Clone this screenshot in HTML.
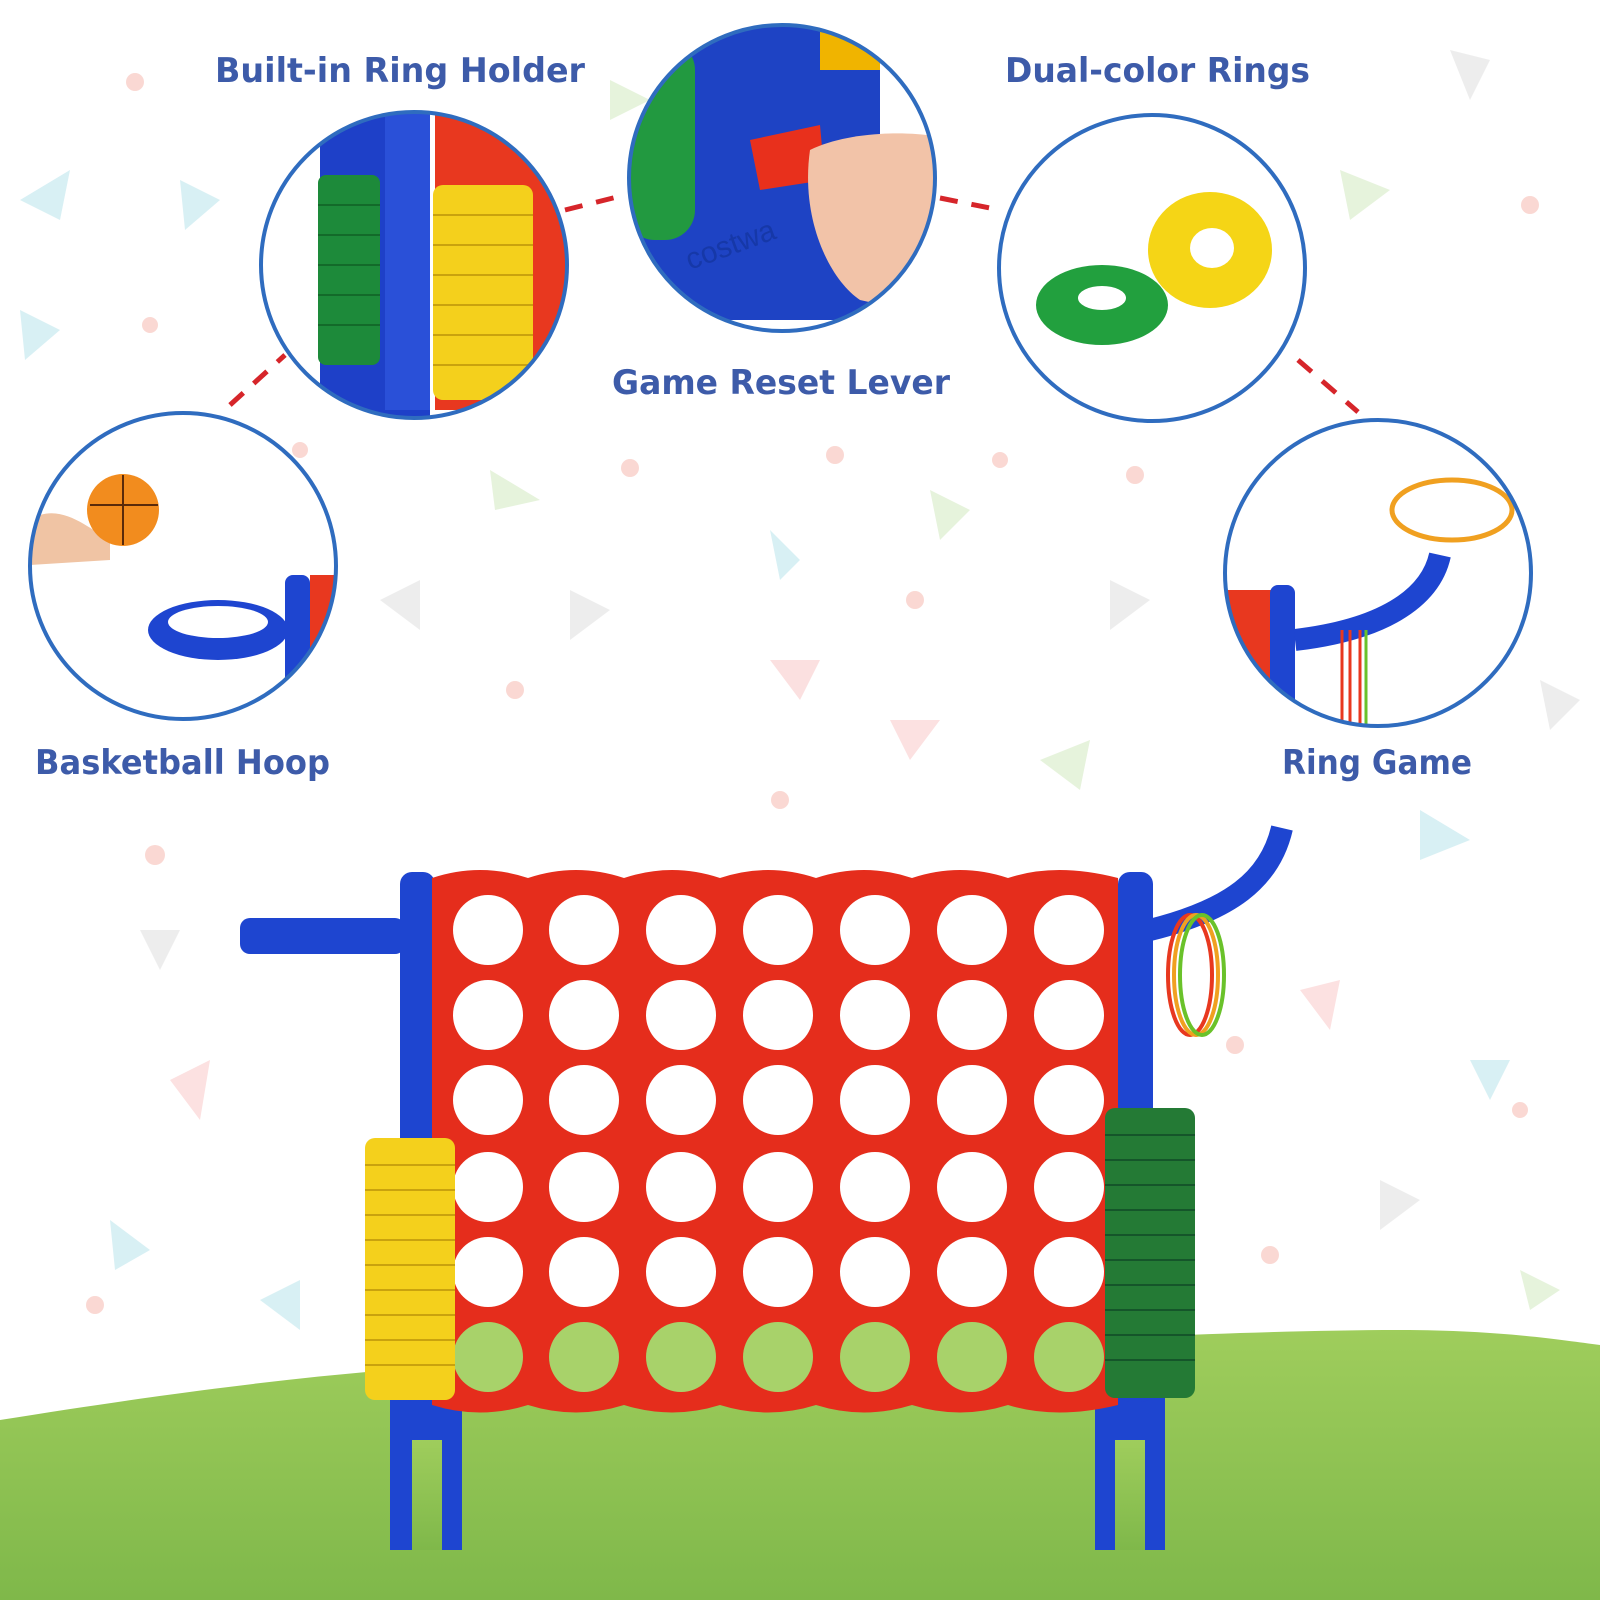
<!DOCTYPE html>
<html><head><meta charset="utf-8"><style>
html,body{margin:0;padding:0;background:#fff;}
svg{display:block}
text.l{font-family:"DejaVu Sans","Liberation Sans",sans-serif;font-weight:bold;fill:#3d5ba9;font-size:34px}
</style></head><body>
<svg width="1600" height="1600" viewBox="0 0 1600 1600" xmlns="http://www.w3.org/2000/svg">
<defs>
<linearGradient id="grass" x1="0" y1="0" x2="0" y2="1">
<stop offset="0" stop-color="#9fcd5c"/><stop offset="1" stop-color="#7fb84a"/></linearGradient>
<clipPath id="c1"><circle cx="414" cy="265" r="153"/></clipPath>
<clipPath id="c2"><circle cx="782" cy="178" r="153"/></clipPath>
<clipPath id="c3"><circle cx="1152" cy="268" r="153"/></clipPath>
<clipPath id="c4"><circle cx="183" cy="566" r="153"/></clipPath>
<clipPath id="c5"><circle cx="1378" cy="573" r="153"/></clipPath>
</defs>
<g opacity="0.35">
<polygon points="20,200 70,170 60,220" fill="#8fd3e0"/>
<polygon points="180,180 220,200 185,230" fill="#8fd3e0"/>
<polygon points="20,310 60,330 25,360" fill="#8fd3e0"/>
<polygon points="490,470 540,500 495,510" fill="#b7dc9c"/>
<polygon points="770,530 800,560 780,580" fill="#8fd3e0"/>
<polygon points="930,490 970,510 940,540" fill="#b7dc9c"/>
<polygon points="380,600 420,580 420,630" fill="#ccc"/>
<polygon points="570,590 610,610 570,640" fill="#ccc"/>
<polygon points="770,660 820,660 800,700" fill="#f5a9a9"/>
<polygon points="890,720 940,720 910,760" fill="#f5a9a9"/>
<polygon points="1110,580 1150,600 1110,630" fill="#ccc"/>
<polygon points="1040,760 1090,740 1080,790" fill="#b7dc9c"/>
<polygon points="1420,810 1470,840 1420,860" fill="#8fd3e0"/>
<polygon points="1470,1060 1510,1060 1490,1100" fill="#8fd3e0"/>
<polygon points="1380,1180 1420,1200 1380,1230" fill="#ccc"/>
<polygon points="140,930 180,930 160,970" fill="#ccc"/>
<polygon points="170,1080 210,1060 200,1120" fill="#f5a9a9"/>
<polygon points="110,1220 150,1250 115,1270" fill="#8fd3e0"/>
<polygon points="260,1300 300,1280 300,1330" fill="#8fd3e0"/>
<polygon points="1520,1270 1560,1290 1530,1310" fill="#b7dc9c"/>
<polygon points="1300,990 1340,980 1330,1030" fill="#f5a9a9"/>
<polygon points="1450,50 1490,60 1470,100" fill="#ccc"/>
<polygon points="1340,170 1390,190 1350,220" fill="#b7dc9c"/>
<polygon points="610,80 650,100 610,120" fill="#b7dc9c"/>
<polygon points="1540,680 1580,700 1550,730" fill="#ccc"/>
</g>
<g fill="#f8c8c0" opacity="0.7">
<circle cx="135" cy="82" r="9"/><circle cx="150" cy="325" r="8"/><circle cx="630" cy="468" r="9"/><circle cx="835" cy="455" r="9"/>
<circle cx="915" cy="600" r="9"/><circle cx="1000" cy="460" r="8"/><circle cx="1135" cy="475" r="9"/><circle cx="515" cy="690" r="9"/>
<circle cx="780" cy="800" r="9"/><circle cx="155" cy="855" r="10"/><circle cx="300" cy="450" r="8"/><circle cx="1530" cy="205" r="9"/>
<circle cx="1235" cy="1045" r="9"/><circle cx="1270" cy="1255" r="9"/><circle cx="95" cy="1305" r="9"/><circle cx="1520" cy="1110" r="8"/>
</g>
<path d="M0,1420 C250,1380 400,1365 600,1358 C900,1350 1200,1330 1400,1330 C1500,1330 1560,1340 1600,1345 L1600,1600 L0,1600 Z" fill="url(#grass)"/>
<g stroke="#d6252a" stroke-width="5" stroke-dasharray="18,14" fill="none">
<line x1="230" y1="405" x2="285" y2="355"/>
<line x1="565" y1="210" x2="625" y2="195"/>
<line x1="940" y1="198" x2="1000" y2="210"/>
<line x1="1298" y1="360" x2="1358" y2="412"/>
</g>
<g clip-path="url(#c1)">
<rect x="250" y="100" width="330" height="330" fill="#fff"/>
<rect x="435" y="110" width="140" height="300" fill="#e8381f"/>
<rect x="320" y="110" width="110" height="310" fill="#1e40c8"/>
<rect x="385" y="110" width="45" height="300" fill="#2a50d8"/>
<rect x="318" y="175" width="62" height="190" rx="8" fill="#1d8a3a"/>
<rect x="433" y="185" width="100" height="215" rx="10" fill="#f4d01c"/>
<g stroke="#c9a20e" stroke-width="2"><line x1="433" y1="215" x2="533" y2="215"/><line x1="433" y1="245" x2="533" y2="245"/><line x1="433" y1="275" x2="533" y2="275"/><line x1="433" y1="305" x2="533" y2="305"/><line x1="433" y1="335" x2="533" y2="335"/><line x1="433" y1="365" x2="533" y2="365"/></g>
<g stroke="#136a2a" stroke-width="2"><line x1="318" y1="205" x2="380" y2="205"/><line x1="318" y1="235" x2="380" y2="235"/><line x1="318" y1="265" x2="380" y2="265"/><line x1="318" y1="295" x2="380" y2="295"/><line x1="318" y1="325" x2="380" y2="325"/></g>
</g>
<circle cx="414" cy="265" r="153" fill="none" stroke="#2f6cbf" stroke-width="4"/>
<g clip-path="url(#c2)">
<rect x="620" y="20" width="330" height="330" fill="#fff"/>
<path d="M620,20 L880,20 L880,320 L620,320 Z" fill="#1e43c4"/>
<rect x="625" y="40" width="70" height="200" rx="30" fill="#229940"/>
<rect x="820" y="30" width="60" height="40" fill="#f0b400"/>
<path d="M750,140 L820,125 L825,180 L760,190 Z" fill="#e8301c"/>
<path d="M810,150 C850,130 920,130 950,140 L950,320 L860,300 C830,280 800,220 810,150 Z" fill="#f2c3a8"/>
<text x="690" y="270" style="font-size:30px;fill:#1638a8;font-family:'Liberation Sans',sans-serif" transform="rotate(-20 690 270)">costwa</text>
</g>
<circle cx="782" cy="178" r="153" fill="none" stroke="#2f6cbf" stroke-width="4"/>
<g clip-path="url(#c3)">
<ellipse cx="1210" cy="250" rx="62" ry="58" fill="#f5d516"/>
<ellipse cx="1212" cy="248" rx="22" ry="20" fill="#fff"/>
<ellipse cx="1102" cy="305" rx="66" ry="40" fill="#22a03e"/>
<ellipse cx="1102" cy="298" rx="24" ry="12" fill="#fff"/>
</g>
<circle cx="1152" cy="268" r="153" fill="none" stroke="#2f6cbf" stroke-width="4"/>
<g clip-path="url(#c4)">
<path d="M30,520 C60,500 90,530 110,540 L110,560 L30,565 Z" fill="#f0c4a4"/>
<circle cx="123" cy="510" r="36" fill="#f28c1e"/>
<path d="M90,505 H158 M123,475 V545" stroke="#5a2a0a" stroke-width="2"/>
<ellipse cx="218" cy="630" rx="70" ry="30" fill="#1e45d0"/>
<ellipse cx="218" cy="622" rx="50" ry="16" fill="#fff"/>
<rect x="285" y="575" width="25" height="110" rx="8" fill="#1e45d0"/>
<rect x="310" y="575" width="30" height="100" fill="#e8381f"/>
</g>
<circle cx="183" cy="566" r="153" fill="none" stroke="#2f6cbf" stroke-width="4"/>
<g clip-path="url(#c5)">
<ellipse cx="1452" cy="510" rx="60" ry="30" fill="none" stroke="#f0a020" stroke-width="5"/>
<rect x="1225" y="590" width="50" height="120" fill="#e8381f"/>
<rect x="1270" y="585" width="25" height="130" rx="8" fill="#1e45d0"/>
<path d="M1295,640 C1380,630 1430,600 1440,555" stroke="#1e45d0" stroke-width="22" fill="none"/>
<path d="M1350,630 v95 M1360,630 v95 M1342,630 v95" stroke="#e8381f" stroke-width="3"/>
<path d="M1366,630 v95" stroke="#6ac22a" stroke-width="3"/>
</g>
<circle cx="1378" cy="573" r="153" fill="none" stroke="#2f6cbf" stroke-width="4"/>
<text class="l" x="215" y="82" textLength="370" lengthAdjust="spacingAndGlyphs">Built-in Ring Holder</text>
<text class="l" x="612" y="394" textLength="338" lengthAdjust="spacingAndGlyphs">Game Reset Lever</text>
<text class="l" x="1005" y="82" textLength="305" lengthAdjust="spacingAndGlyphs">Dual-color Rings</text>
<text class="l" x="35" y="774" textLength="295" lengthAdjust="spacingAndGlyphs">Basketball Hoop</text>
<text class="l" x="1282" y="774" textLength="190" lengthAdjust="spacingAndGlyphs">Ring Game</text>
<path d="M1282,828 C1270,880 1230,910 1150,930" stroke="#1e45d0" stroke-width="22" fill="none"/>
<rect x="240" y="918" width="165" height="36" rx="10" fill="#1e45d0"/>
<rect x="390" y="1395" width="72" height="155" fill="#1e45d0"/>
<rect x="1095" y="1395" width="70" height="155" fill="#1e45d0"/>
<rect x="412" y="1440" width="30" height="110" fill="url(#grass)"/>
<rect x="1115" y="1440" width="30" height="110" fill="url(#grass)"/>
<rect x="400" y="872" width="35" height="530" rx="12" fill="#1e45d0"/>
<rect x="1118" y="872" width="35" height="530" rx="12" fill="#1e45d0"/>
<path d="M432,878 Q480,862 528,878 Q576,862 624,878 Q672,862 720,878 Q768,862 816,878 Q864,862 912,878 Q960,862 1008,878 Q1056,862 1118,878 L1118,1405 Q1056,1420 1008,1405 Q960,1420 912,1405 Q864,1420 816,1405 Q768,1420 720,1405 Q672,1420 624,1405 Q576,1420 528,1405 Q480,1420 432,1405 Z" fill="#e52d1c"/>
<g fill="#fff">
<g id="row">
<ellipse cx="488" cy="930" rx="35" ry="35"/><ellipse cx="584" cy="930" rx="35" ry="35"/><ellipse cx="681" cy="930" rx="35" ry="35"/><ellipse cx="778" cy="930" rx="35" ry="35"/><ellipse cx="875" cy="930" rx="35" ry="35"/><ellipse cx="972" cy="930" rx="35" ry="35"/><ellipse cx="1069" cy="930" rx="35" ry="35"/>
</g>
<use href="#row" y="85"/><use href="#row" y="170"/><use href="#row" y="257"/><use href="#row" y="342"/>
</g>
<g fill="#a8d26a"><use href="#row" y="427"/></g>
<rect x="365" y="1138" width="90" height="262" rx="10" fill="#f4d01c"/>
<g stroke="#c9a20e" stroke-width="2">
<line x1="365" y1="1165" x2="455" y2="1165"/><line x1="365" y1="1190" x2="455" y2="1190"/><line x1="365" y1="1215" x2="455" y2="1215"/><line x1="365" y1="1240" x2="455" y2="1240"/><line x1="365" y1="1265" x2="455" y2="1265"/><line x1="365" y1="1290" x2="455" y2="1290"/><line x1="365" y1="1315" x2="455" y2="1315"/><line x1="365" y1="1340" x2="455" y2="1340"/><line x1="365" y1="1365" x2="455" y2="1365"/></g>
<rect x="1105" y="1108" width="90" height="290" rx="10" fill="#247a35"/>
<g stroke="#15552a" stroke-width="2">
<line x1="1105" y1="1135" x2="1195" y2="1135"/><line x1="1105" y1="1160" x2="1195" y2="1160"/><line x1="1105" y1="1185" x2="1195" y2="1185"/><line x1="1105" y1="1210" x2="1195" y2="1210"/><line x1="1105" y1="1235" x2="1195" y2="1235"/><line x1="1105" y1="1260" x2="1195" y2="1260"/><line x1="1105" y1="1285" x2="1195" y2="1285"/><line x1="1105" y1="1310" x2="1195" y2="1310"/><line x1="1105" y1="1335" x2="1195" y2="1335"/><line x1="1105" y1="1360" x2="1195" y2="1360"/></g>
<g fill="none" stroke-width="4">
<ellipse cx="1190" cy="975" rx="22" ry="60" stroke="#e8381f"/>
<ellipse cx="1196" cy="975" rx="22" ry="60" stroke="#f0a020"/>
<ellipse cx="1202" cy="975" rx="22" ry="60" stroke="#6ac22a"/>
</g>
</svg>
</body></html>
